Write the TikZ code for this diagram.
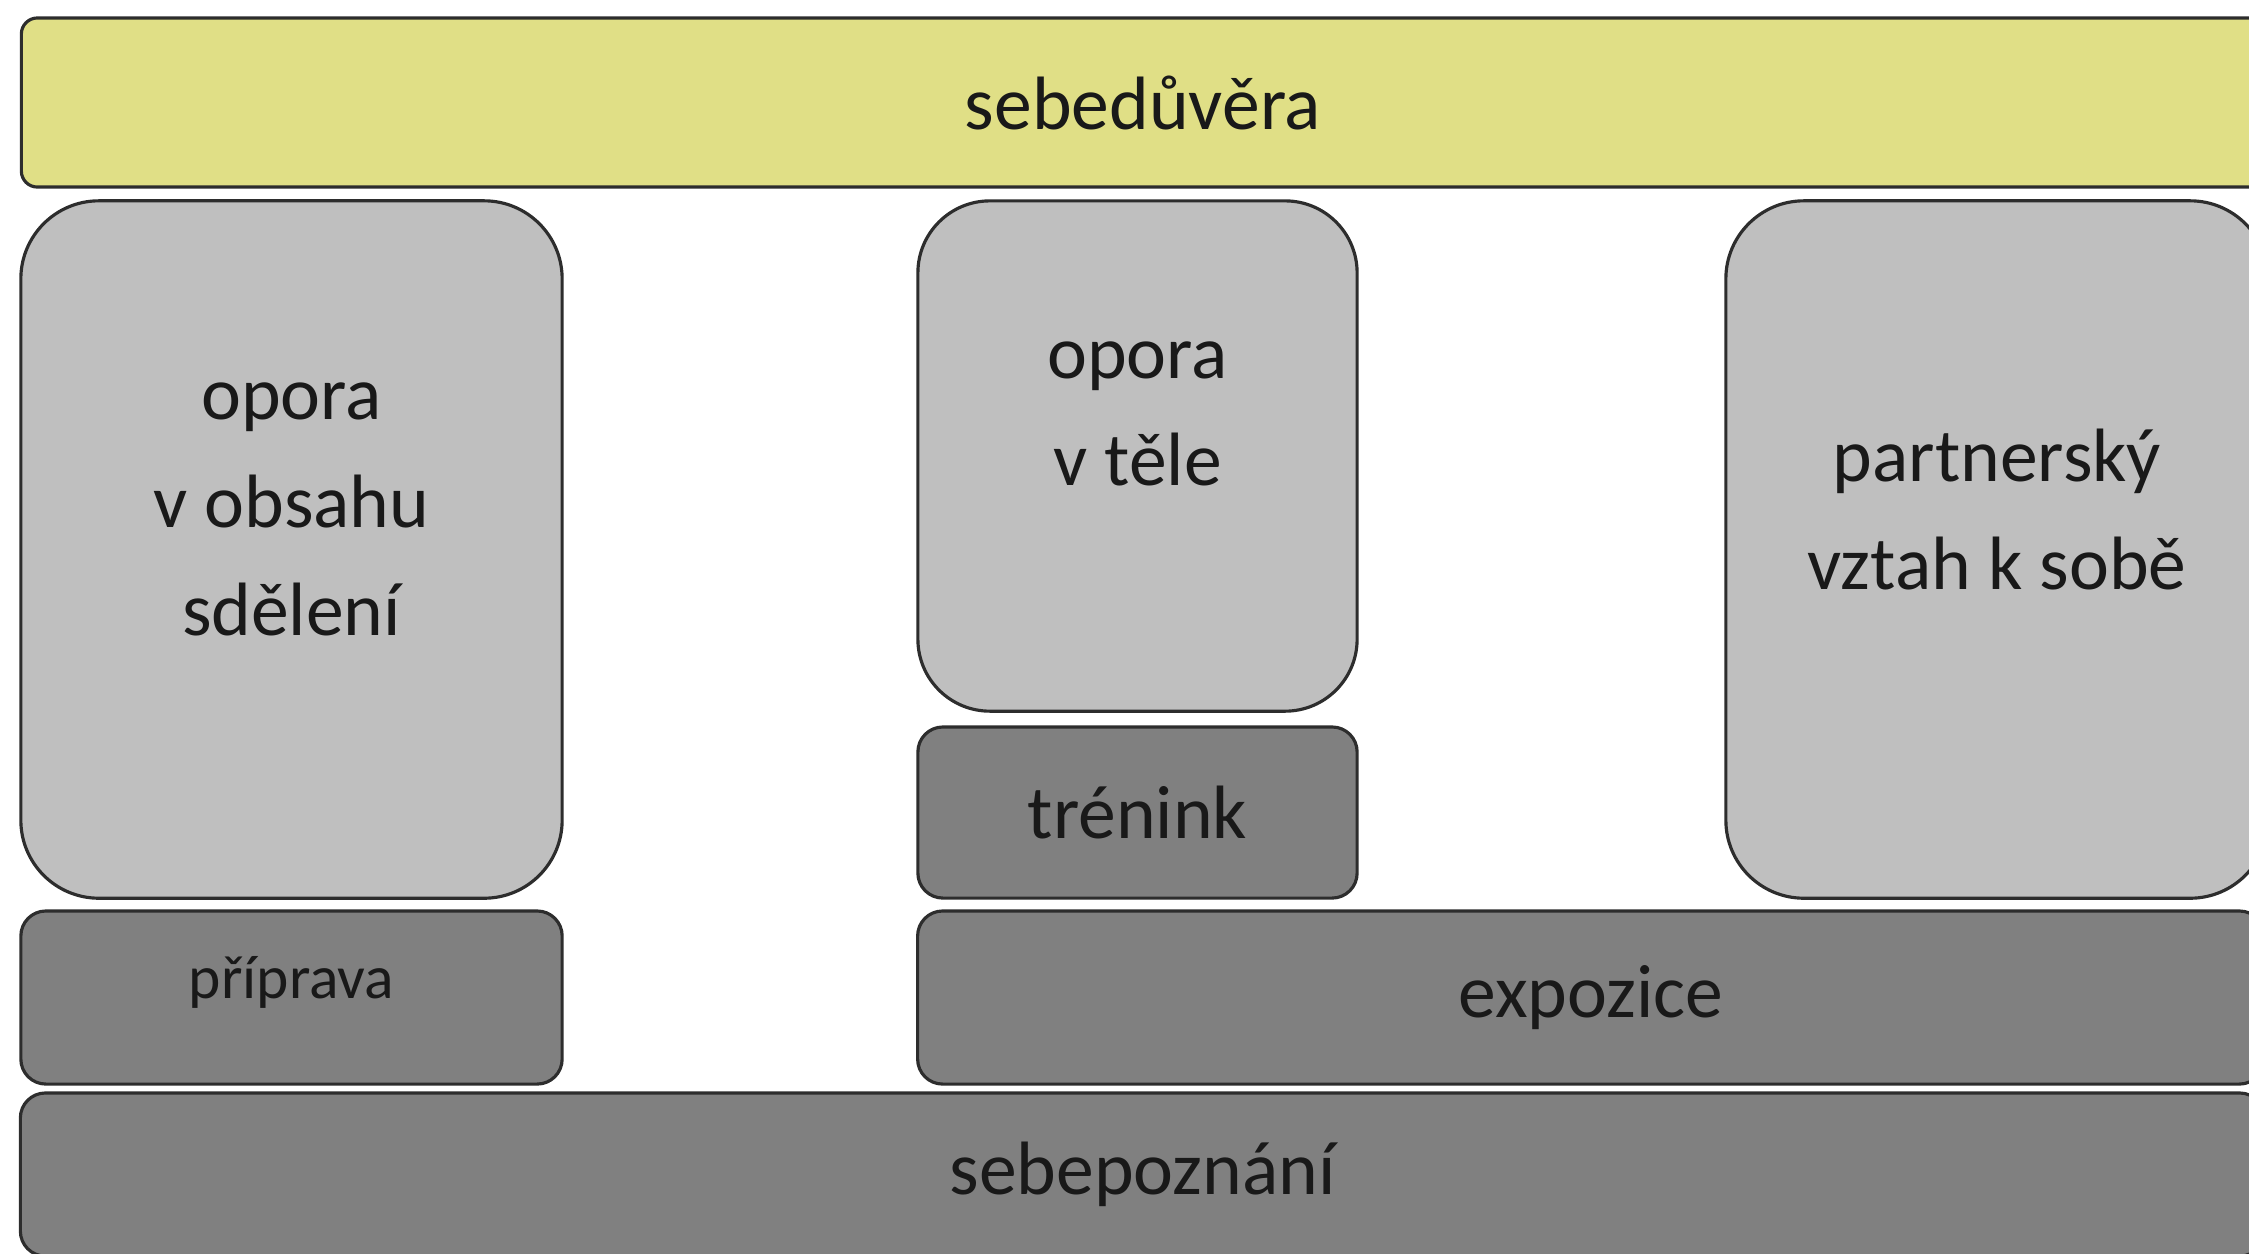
\documentclass[tikz,border=0pt]{standalone}
\usepackage{fontspec}
\setmainfont{Carlito}
\usepackage{tikz}
\usetikzlibrary{positioning}

\definecolor{zluta}{RGB}{224,223,134}
\definecolor{svetla}{RGB}{191,191,191}
\definecolor{tmava}{RGB}{128,128,128}
\definecolor{okraj}{RGB}{45,45,45}

\tikzset{
  blok/.style={draw=okraj, line width=0.9pt, rounded corners=#1, inner sep=0pt},
  popis/.style={align=center, text=black!90, font=\fontsize{21.5}{30.6}\selectfont},
}

\begin{document}
\begin{tikzpicture}[x=0.01cm, y=-0.01cm]
  \useasboundingbox (0,0) rectangle (2249,1253);
  \clip (0,0) rectangle (2249,1253);

  % horni pas
  \node[blok=0.16cm, fill=zluta, minimum width=22.42cm, minimum height=1.69cm, popis] (sebeduvera) at (1143,102.5) {sebedůvěra};

  % sloupy
  \node[blok=0.78cm, fill=svetla, minimum width=5.41cm, minimum height=6.97cm] (obsah) at (291.5,549.5) {};
  \node[blok=0.72cm, fill=svetla, minimum width=4.39cm, minimum height=5.10cm] (telo) at (1137.5,456) {};
  \node[blok=0.78cm, fill=svetla, minimum width=5.42cm, minimum height=6.97cm] (partner) at (1997,549.5) {};
  \node[popis] (obsahT) at ([yshift=0.40cm]obsah.center) {opora\\v obsahu\\sdělení};
  \node[popis] (teloT) at ([yshift=0.42cm]telo.center) {opora\\v těle};
  \node[popis] (partnerT) at ([yshift=0.40cm]partner.center) {partnerský\\vztah k sobě};

  % mensi bloky
  \node[blok=0.25cm, fill=tmava, minimum width=4.39cm, minimum height=1.71cm, popis] (trenink) at (1137.5,812.5) {trénink};
  \node[blok=0.25cm, fill=tmava, minimum width=5.41cm, minimum height=1.73cm] (priprava) at (291.5,997.5) {};
  \node[popis, font=\fontsize{17.5}{21}\selectfont] (pripravaT) at ([yshift=0.15cm]priprava.center) {příprava};
  \node[blok=0.25cm, fill=tmava, minimum width=13.46cm, minimum height=1.73cm, popis] (expozice) at (1591,997.5) {expozice};

  % spodni pas
  \node[blok=0.25cm, fill=tmava, minimum width=22.43cm, minimum height=1.63cm, popis] (sebepoznani) at (1142.5,1174.5) {sebepoznání};
\end{tikzpicture}
\end{document}
